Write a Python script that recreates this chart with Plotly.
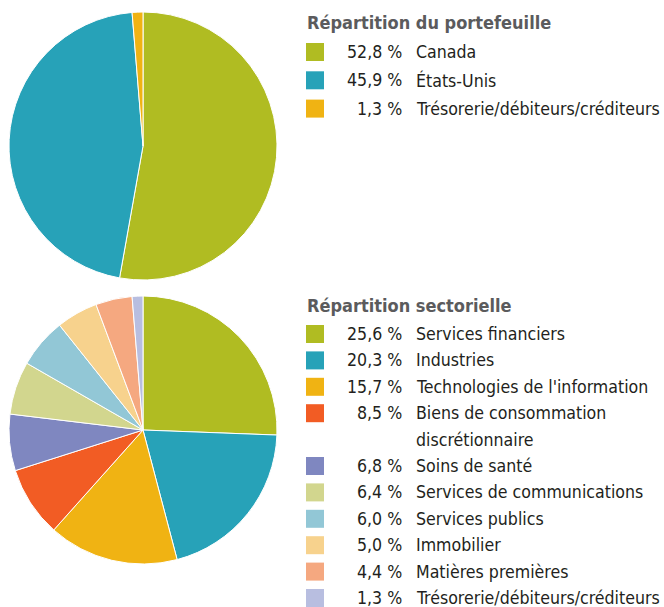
import plotly.graph_objects as go

W, H = 664, 607

# ---- data ----
port_labels = ["Canada", "États-Unis", "Trésorerie/débiteurs/créditeurs"]
port_values = [52.8, 45.9, 1.3]
port_colors = ["#B0BC22", "#27A2B8", "#F0B313"]
port_title = "Répartition du portefeuille"

sect_labels = ["Services financiers", "Industries", "Technologies de l'information",
               "Biens de consommation<br>discrétionnaire", "Soins de santé",
               "Services de communications", "Services publics", "Immobilier",
               "Matières premières", "Trésorerie/débiteurs/créditeurs"]
sect_values = [25.6, 20.3, 15.7, 8.5, 6.8, 6.4, 6.0, 5.0, 4.4, 1.3]
sect_colors = ["#B0BC22", "#27A2B8", "#F0B313", "#F25C24", "#7F87C0",
               "#D2D68E", "#92C7D6", "#F7D28D", "#F5A880", "#B8BEE0"]
sect_title = "Répartition sectorielle"

FONT = "DejaVu Sans Condensed, Roboto, sans-serif"
FS = 17.6


def px_x(x):
    return x / W


def px_y(y):
    return 1 - y / H


fig = go.Figure()

def add_pie(labels, values, colors, top, bottom, left, right):
    fig.add_trace(go.Pie(
        labels=[l.replace("<br>", " ") for l in labels], values=values,
        marker=dict(colors=colors, line=dict(color="white", width=1)),
        sort=False, direction="clockwise", rotation=0,
        textinfo="none", hoverinfo="label+percent", showlegend=False,
        domain=dict(x=[px_x(left), px_x(right)], y=[px_y(bottom), px_y(top)]),
    ))

add_pie(port_labels, port_values, port_colors, 12, 280, 9, 277)
add_pie(sect_labels, sect_values, sect_colors, 296, 564, 9, 277)

shapes = []
annotations = []

def add_legend(title, labels, values, colors, title_y, first_y, step):
    annotations.append(dict(
        text="<b>" + title + "</b>", x=px_x(305), y=px_y(title_y),
        xref="paper", yref="paper", xanchor="left", yanchor="middle",
        showarrow=False, font=dict(family=FONT, size=18, color="#5B5B5D")))
    row = 0
    for lab, val, col in zip(labels, values, colors):
        yc = first_y + row * step
        shapes.append(dict(type="rect", xref="paper", yref="paper",
                           x0=px_x(306), x1=px_x(324),
                           y0=px_y(yc + 9), y1=px_y(yc - 9),
                           fillcolor=col, line=dict(width=0)))
        annotations.append(dict(
            text=f"{val:.1f} %".replace(".", ","), x=px_x(404), y=px_y(yc),
            xref="paper", yref="paper", xanchor="right", yanchor="middle",
            showarrow=False, font=dict(family=FONT, size=FS, color="#231F20")))
        for line in lab.split("<br>"):
            annotations.append(dict(
                text=line, x=px_x(414), y=px_y(first_y + row * step),
                xref="paper", yref="paper", xanchor="left", yanchor="middle",
                showarrow=False, font=dict(family=FONT, size=FS, color="#231F20")))
            row += 1

add_legend(port_title, port_labels, port_values, port_colors, 22, 52, 28.3)
add_legend(sect_title, sect_labels, sect_values, sect_colors, 305, 334, 26.4)

fig.update_layout(
    width=W, height=H, margin=dict(l=0, r=0, t=0, b=0),
    paper_bgcolor="white", plot_bgcolor="white",
    shapes=shapes, annotations=annotations,
)

fig.write_html("out.html", config={"displayModeBar": False},
               post_script="document.body.style.margin='0';document.body.style.padding='0';")
